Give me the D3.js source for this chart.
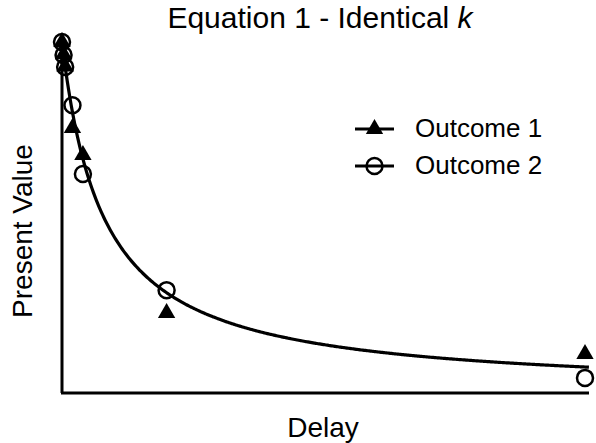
<!DOCTYPE html>
<html>
<head>
<meta charset="UTF-8">
<script src="https://cdnjs.cloudflare.com/ajax/libs/d3/7.8.5/d3.min.js"></script>
<style>
    body { margin: 0; background: #fff; }
    text { font-family: "Liberation Sans", Arial, sans-serif; fill: #000; }
</style>
</head>
<body>
<svg id="chart" width="596" height="443"></svg>
<script>
    // delays (arbitrary units) and present values
    var delays = [0, 0.3, 0.6, 2, 4, 20, 100];
    var outcome1 = [1.0, 0.965, 0.93, 0.755, 0.678, 0.228, 0.111];
    var outcome2 = [1.0, 0.963, 0.929, 0.82, 0.624, 0.293, 0.043];
    var k = 0.125;
    var seriesNames = ["Outcome 1", "Outcome 2"];

    var svg = d3.select("#chart");

    var x = d3.scaleLinear().domain([0, 100]).range([62, 585]);
    var y = d3.scaleLinear().domain([0, 1]).range([393, 42]);

    // axes: plain lines, no ticks
    svg.append("line")
        .attr("x1", 62).attr("x2", 62)
        .attr("y1", 38).attr("y2", 393)
        .style("stroke", "#000").style("stroke-width", 3);
    svg.append("line")
        .attr("x1", 61).attr("x2", 589)
        .attr("y1", 393).attr("y2", 393)
        .style("stroke", "#000").style("stroke-width", 3);

    // hyperbolic curve V = 1 / (1 + kD)
    var curveD = d3.range(0, 101, 0.25);
    var line = d3.line()
        .x(d => x(d))
        .y(d => y(1 / (1 + k * d)))
        .curve(d3.curveBasis);
    svg.append("path")
        .datum(curveD)
        .attr("d", line)
        .style("fill", "none")
        .style("stroke", "#000")
        .style("stroke-width", 3.2);

    var tri = d3.symbol().type(d3.symbolTriangle).size(130);

    svg.selectAll("path.tri")
        .data(delays)
        .enter()
        .append("path")
        .attr("class", "tri")
        .attr("d", tri)
        .attr("transform", (d, i) => `translate(${x(d)},${y(outcome1[i])})`)
        .style("fill", "#000");

    svg.selectAll("circle.circ")
        .data(delays)
        .enter()
        .append("circle")
        .attr("class", "circ")
        .attr("cx", d => x(d))
        .attr("cy", (d, i) => y(outcome2[i]))
        .attr("r", 8)
        .style("fill", "none")
        .style("stroke", "#000")
        .style("stroke-width", 2.5);

    // legend
    var legend = svg.selectAll("g.legend")
        .data(seriesNames)
        .enter()
        .append("g")
        .attr("class", "legend")
        .attr("transform", (d, i) => `translate(355,${129 + i * 37})`);
    legend.append("line")
        .attr("x1", 0).attr("x2", 39)
        .style("stroke", "#000").style("stroke-width", 3);
    legend.filter((d, i) => i == 0).append("path")
        .attr("d", tri)
        .attr("transform", "translate(19.5,0)")
        .style("fill", "#000");
    legend.filter((d, i) => i == 1).append("circle")
        .attr("cx", 19.5).attr("r", 8)
        .style("fill", "none")
        .style("stroke", "#000").style("stroke-width", 2.5);
    legend.append("text")
        .attr("x", 60).attr("y", 8)
        .style("font-size", "26px")
        .text(d => d);

    // title
    var title = svg.append("text")
        .attr("x", 320).attr("y", 28)
        .style("text-anchor", "middle")
        .style("font-size", "30px");
    title.append("tspan").text("Equation 1 - Identical ");
    title.append("tspan").style("font-style", "italic").text("k");

    svg.append("text")
        .attr("x", 323).attr("y", 437)
        .style("text-anchor", "middle")
        .style("font-size", "28px")
        .text("Delay");

    svg.append("text")
        .attr("transform", "translate(32,231) rotate(-90)")
        .style("text-anchor", "middle")
        .style("font-size", "28px")
        .text("Present Value");
</script>
</body>
</html>
